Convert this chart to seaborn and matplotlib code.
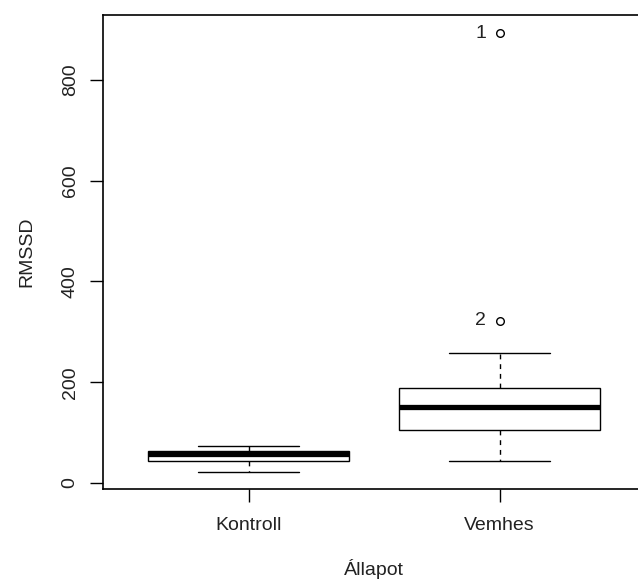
import numpy as np
import pandas as pd
import matplotlib
matplotlib.use("Agg")
import matplotlib.pyplot as plt
import seaborn as sns

# Groups and RMSSD values (five-number summaries per group, outliers listed separately)
categories = ["Kontroll", "Vemhes"]
kontroll_vals = [22, 44, 58, 63, 73]
vemhes_vals = [44, 105, 151, 188, 259]
outlier_group = ["Vemhes", "Vemhes"]
outlier_vals = [893, 322]
outlier_ids = ["1", "2"]
yticks = [0, 200, 400, 600, 800]

df = pd.DataFrame({
    "Állapot": ["Kontroll"] * len(kontroll_vals) + ["Vemhes"] * len(vemhes_vals),
    "RMSSD": kontroll_vals + vemhes_vals,
})

sns.set_theme(style="ticks")
plt.rcParams["font.family"] = ["Liberation Sans", "DejaVu Sans"]
text_col = "#222222"
fs = 14

fig = plt.figure(figsize=(6.38, 5.79), dpi=100)
ax = fig.add_axes([103 / 638, 90 / 579, 2.16 * 251 / 638, 474 / 579])

sns.boxplot(
    data=df, x="Állapot", y="RMSSD", order=categories, ax=ax,
    width=0.8, whis=1.5, color="white", linecolor="black", linewidth=1.0,
    saturation=1, showfliers=False,
    medianprops=dict(color="black", linewidth=3.8, solid_capstyle="butt"),
    whiskerprops=dict(color="black", linewidth=1.0, linestyle=(0, (3.5, 3.5))),
    capprops=dict(color="black", linewidth=1.0),
    boxprops=dict(edgecolor="black", linewidth=1.0),
)

# Outlying observations, numbered
ox = [categories.index(g) for g in outlier_group]
ax.plot(ox, outlier_vals, linestyle="none", marker="o", ms=5.5,
        mfc="none", mec="black", mew=1.0, zorder=5)
for x, y, lab in zip(ox, outlier_vals, outlier_ids):
    ax.text(x - 0.076, y, lab, ha="center", va="center",
            fontsize=fs, color=text_col)

ax.set_xlim(-0.58, 1.58)
ax.set_ylim(-11.9, 929)
ax.set_yticks(yticks)
ax.set_yticklabels([str(v) for v in yticks], rotation=90, va="center")

for s in ax.spines.values():
    s.set_visible(True)
    s.set_color("black")
    s.set_linewidth(1.2)

ax.tick_params(axis="both", length=9.5, width=1.0, color="black",
               labelsize=fs, labelcolor=text_col)
ax.tick_params(axis="y", pad=8)
ax.tick_params(axis="x", pad=11)

ax.set_xlabel("Állapot", fontsize=fs, color=text_col, labelpad=18)
ax.set_ylabel("RMSSD", fontsize=fs, color=text_col, labelpad=19)

fig.savefig("out.png", dpi=100, facecolor="white")
